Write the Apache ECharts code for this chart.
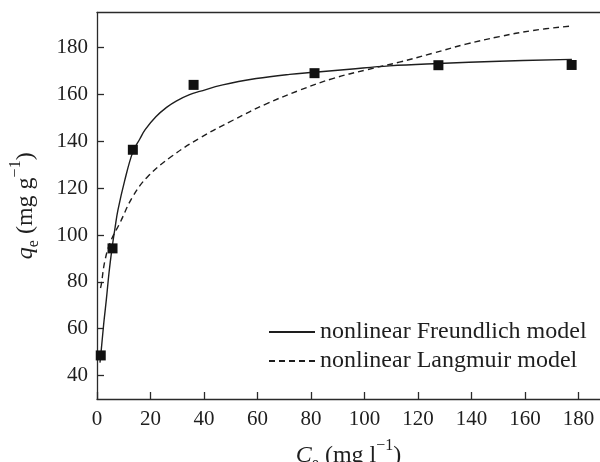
<!DOCTYPE html>
<html>
<head>
<meta charset="utf-8">
<script src="https://cdn.jsdelivr.net/npm/echarts@6/dist/echarts.min.js"></script>
<style>
  html, body { margin: 0; padding: 0; background: #fff; }
  #chart { width: 600px; height: 462px; }
</style>
</head>
<body>
<div id="chart"></div>
<script>
// Measured equilibrium uptake
const ceObs = [1.4, 5.8, 13.4, 36.1, 81.3, 127.6, 177.4];
const qeObs = [48.6, 94.3, 136.4, 164.1, 169.1, 172.5, 172.6];

// Fitted curve (solid)
const freundCe = [1.1, 1.4, 2.5, 3.5, 4.5, 5.6, 6.8, 7.8, 10.3, 13.4, 16, 18, 22, 26, 29.6, 34.6, 38.4, 47, 59.5, 72, 81.3, 94.4, 109.3, 127.6, 150.4, 177.5];
const freundQe = [45.5, 48.6, 62, 72.5, 84, 94.2, 103.5, 110.5, 123, 135.5, 141, 145, 150.5, 154.5, 157.2, 159.9, 161.3, 164.1, 166.8, 168.6, 169.5, 170.8, 172.2, 173.2, 174.2, 175];

// Fitted curve (dashed)
const langCe = [1.3, 1.6, 2.9, 5, 8.5, 13.4, 19, 27.8, 38.4, 50.8, 63.3, 75.7, 88.1, 100.6, 113, 125.5, 137.9, 150.4, 162.8, 177.7];
const langQe = [77.4, 78.8, 88.7, 97, 105, 116.5, 125, 133.5, 141.4, 149, 156, 161.8, 166.8, 170.5, 173.8, 177.6, 181.5, 184.7, 187.3, 189.3];

const xTicks = [0, 20, 40, 60, 80, 100, 120, 140, 160, 180];
const yTicks = [40, 60, 80, 100, 120, 140, 160, 180];

const serif = '"Liberation Serif", "DejaVu Serif", serif';
const ink = '#1e1e1e';
const axisInk = '#2a2a2a';

const pairs = (xs, ys) => xs.map((x, i) => [x, ys[i]]);

// Rich styles for axis titles: italic symbol, subscript, superscript
const titleRich = {
  i: { fontFamily: serif, fontSize: 24, fontStyle: 'italic', color: ink, lineHeight: 26 },
  n: { fontFamily: serif, fontSize: 24, color: ink, lineHeight: 26 },
  sub: { fontFamily: serif, fontSize: 16, color: ink, verticalAlign: 'bottom', lineHeight: 26, padding: [0, 0, -3, 0] },
  sup: { fontFamily: serif, fontSize: 16, color: ink, verticalAlign: 'top', lineHeight: 26, padding: [-5, 0, 0, 0] }
};

const chart = echarts.init(document.getElementById('chart'));
chart.setOption({
  animation: false,
  backgroundColor: '#fff',
  textStyle: { fontFamily: serif, color: ink },
  grid: { left: 97, right: 0, top: 12.5, bottom: 63, containLabel: false, outerBoundsMode: 'none' },
  legend: {
    orient: 'vertical',
    left: 263,
    top: 313,
    itemWidth: 46,
    itemHeight: 14,
    itemGap: 1,
    itemStyle: { opacity: 0 },
    data: ['nonlinear Freundlich model', 'nonlinear Langmuir model'],
    textStyle: { fontFamily: serif, fontSize: 24, color: ink, lineHeight: 28 }
  },
  xAxis: [{
    type: 'value',
    min: 0,
    max: 188,
    name: '{i|C}{sub|e}{n| (mg l}{sup|\u22121}{n|)}',
    nameLocation: 'middle',
    nameGap: 44,
    nameTextStyle: { rich: titleRich },
    splitLine: { show: false },
    axisLine: { show: true, lineStyle: { color: axisInk, width: 1.3 } },
    axisTick: { show: true, inside: true, length: 7, customValues: xTicks, lineStyle: { color: axisInk, width: 1.3 } },
    axisLabel: { customValues: xTicks, fontFamily: serif, fontSize: 21, color: ink, margin: 10 }
  }, {
    type: 'value',
    position: 'top',
    min: 0,
    max: 188,
    splitLine: { show: false },
    axisLine: { show: true, lineStyle: { color: axisInk, width: 1.3 } },
    axisTick: { show: false },
    axisLabel: { show: false }
  }],
  yAxis: {
    type: 'value',
    min: 30,
    max: 195,
    name: '{i|q}{sub|e}{n| (mg g}{sup|\u22121}{n|)}',
    nameLocation: 'middle',
    nameRotate: 90,
    nameGap: 58,
    nameTextStyle: { rich: titleRich },
    splitLine: { show: false },
    axisLine: { show: true, lineStyle: { color: axisInk, width: 1.3 } },
    axisTick: { show: true, inside: true, length: 7, customValues: yTicks, lineStyle: { color: axisInk, width: 1.3 } },
    axisLabel: { customValues: yTicks, fontFamily: serif, fontSize: 21, color: ink, margin: 9 }
  },
  series: [{
    name: 'nonlinear Freundlich model',
    type: 'line',
    data: pairs(freundCe, freundQe),
    smooth: 0.4,
    symbol: 'none',
    lineStyle: { color: '#1e1e1e', width: 1.4 },
    itemStyle: { color: '#1e1e1e' },
    z: 2
  }, {
    name: 'nonlinear Langmuir model',
    type: 'line',
    data: pairs(langCe, langQe),
    smooth: 0.4,
    symbol: 'none',
    lineStyle: { color: '#1e1e1e', width: 1.4, type: [6, 4] },
    itemStyle: { color: '#1e1e1e' },
    z: 2
  }, {
    name: 'measured',
    type: 'scatter',
    data: pairs(ceObs, qeObs),
    symbol: 'rect',
    symbolSize: 10,
    itemStyle: { color: '#111', opacity: 1 },
    z: 3
  }]
});
</script>
</body>
</html>
